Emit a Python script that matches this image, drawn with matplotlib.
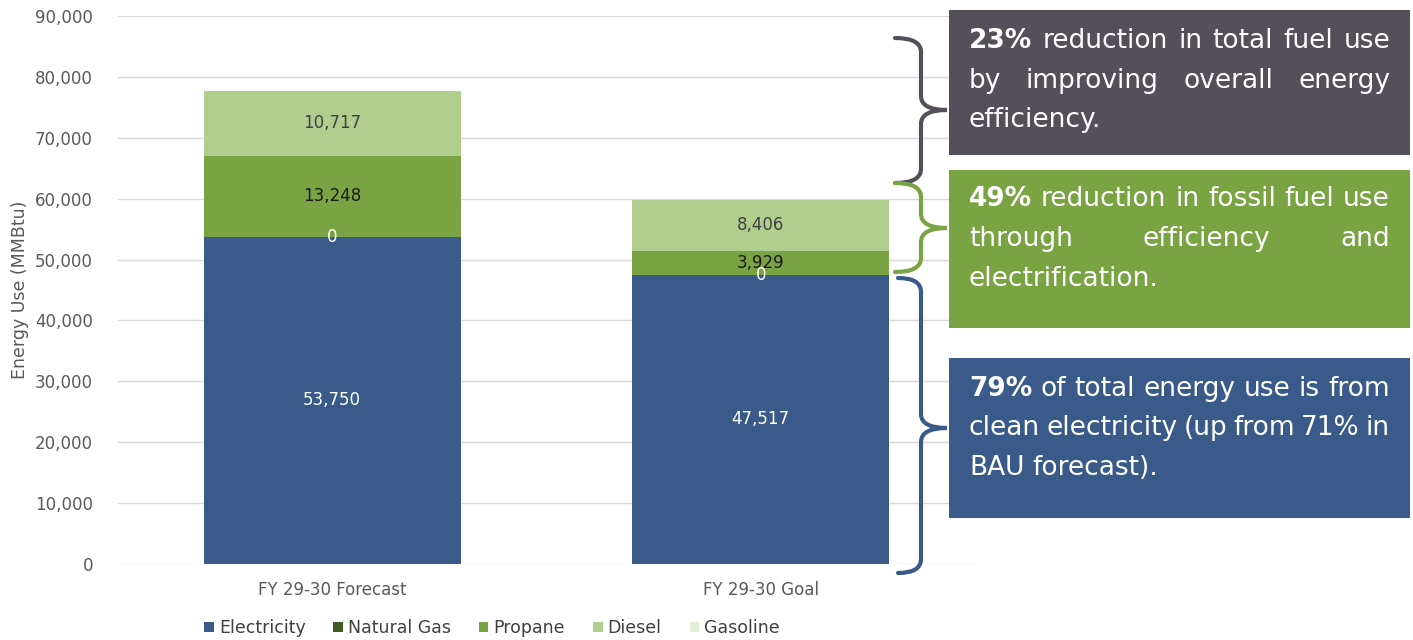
import numpy as np
import matplotlib
matplotlib.use("Agg")
import matplotlib.pyplot as plt
from matplotlib.path import Path
from matplotlib.patches import PathPatch, Rectangle
from matplotlib.ticker import FuncFormatter

plt.rcParams['font.family'] = ['DejaVu Sans']

# data
categories = ["FY 29-30 Forecast", "FY 29-30 Goal"]
fuels = ["Electricity", "Natural Gas", "Propane", "Diesel", "Gasoline"]
electricity = [53750, 47517]
natural_gas = [0, 0]
propane = [13248, 3929]
diesel = [10717, 8406]
gasoline = [0, 0]
series = [electricity, natural_gas, propane, diesel, gasoline]

colors = ["#3A5A8A", "#3E5C22", "#7AA444", "#B0CF8E", "#E2EFD9"]
label_colors = ["white", "white", "#1a1a1a", "#404040", None]

W, H = 1413, 640
fig = plt.figure(figsize=(W / 100, H / 100), dpi=100)
ax = fig.add_axes([118 / W, 1 - 564 / H, (975 - 118) / W, (564 - 16) / H])

x = np.arange(len(categories))
bottom = np.zeros(len(categories))
for vals, name, c, lc in zip(series, fuels, colors, label_colors):
    vals = np.array(vals, dtype=float)
    ax.bar(x, vals, 0.6, bottom=bottom, color=c, label=name, zorder=3)
    if lc is not None:
        for xi, v, b in zip(x, vals, bottom):
            ax.text(xi, b + v / 2, f"{int(v):,}", ha="center", va="center",
                    color=lc, fontsize=12, zorder=4)
    bottom += vals

ax.set_xlim(-0.5, 1.5)
ax.set_ylim(0, 90000)
ax.set_yticks(np.arange(0, 90001, 10000))
ax.yaxis.set_major_formatter(FuncFormatter(lambda v, p: f"{int(v):,}"))
ax.grid(axis="y", color="#D9D9D9", linewidth=1, zorder=0)
for s in ax.spines.values():
    s.set_visible(False)
ax.tick_params(axis="both", length=0, colors="#595959", labelsize=12)
ax.tick_params(axis="y", pad=18)
ax.tick_params(axis="x", pad=12)
ax.set_xticks(x)
ax.set_xticklabels(categories)
ax.set_ylabel("Energy Use (MMBtu)", color="#595959", fontsize=12.5, labelpad=4)

fig.legend(loc="center", bbox_to_anchor=(492 / W, 1 - 628 / H), ncol=5,
           frameon=False, handlelength=0.55, handleheight=0.55, handletextpad=0.3,
           columnspacing=1.6, fontsize=12.5, labelcolor="#404040")


def px(xp, yp):
    return xp / W, 1 - yp / H


def brace(xl, xm, xt, yt, yb, ytip, color, r=14):
    pts = [(xl, yt), (xm, yt), (xm, yt + r), (xm, ytip - r), (xm, ytip), (xt, ytip),
           (xm, ytip), (xm, ytip + r), (xm, yb - r), (xm, yb), (xl, yb)]
    codes = [Path.MOVETO, Path.CURVE3, Path.CURVE3, Path.LINETO, Path.CURVE3, Path.CURVE3,
             Path.CURVE3, Path.CURVE3, Path.LINETO, Path.CURVE3, Path.CURVE3]
    path = Path([px(a, b) for a, b in pts], codes)
    fig.add_artist(PathPatch(path, transform=fig.transFigure, fill=False,
                             edgecolor=color, linewidth=3, capstyle="round"))


boxes = [
    dict(y0=10, y1=155, color="#544F59", ys=[41, 81, 120],
         lines=[[("23%", True), ("reduction", False), ("in", False), ("total", False), ("fuel", False), ("use", False)],
                [("by", False), ("improving", False), ("overall", False), ("energy", False)],
                [("efficiency.", False)]],
         brace=(895, 921, 947, 38, 183, 110)),
    dict(y0=170, y1=328, color="#7AA444", ys=[199, 239, 279],
         lines=[[("49%", True), ("reduction", False), ("in", False), ("fossil", False), ("fuel", False), ("use", False)],
                [("through", False), ("efficiency", False), ("and", False)],
                [("electrification.", False)]],
         brace=(895, 921, 947, 183, 272, 228)),
    dict(y0=358, y1=518, color="#3A5A8A", ys=[389, 428, 468],
         lines=[[("79%", True), ("of", False), ("total", False), ("energy", False), ("use", False), ("is", False), ("from", False)],
                [("clean", False), ("electricity", False), ("(up", False), ("from", False), ("71%", False), ("in", False)],
                [("BAU", False), ("forecast).", False)]],
         brace=(898, 921, 947, 278, 573, 428)),
]

renderer = fig.canvas.get_renderer()
fs = 19
tx0, tx1 = 969, 1390
space_t = fig.text(0, 0, "a a", fontsize=fs)
nospace_t = fig.text(0, 0, "aa", fontsize=fs)
space_w = (space_t.get_window_extent(renderer).width
           - nospace_t.get_window_extent(renderer).width)
space_t.remove()
nospace_t.remove()

for b in boxes:
    fig.add_artist(Rectangle(px(949, b["y1"]), (1410 - 949) / W, (b["y1"] - b["y0"]) / H,
                             transform=fig.transFigure, facecolor=b["color"],
                             edgecolor="none"))
    brace(*b["brace"], color=b["color"])
    for i, (words, yc) in enumerate(zip(b["lines"], b["ys"])):
        texts = []
        for w, bold in words:
            t = fig.text(0, 0, w, fontsize=fs, color="white",
                         fontweight="bold" if bold else "normal", va="center")
            texts.append(t)
        widths = [t.get_window_extent(renderer).width for t in texts]
        last = i == len(b["lines"]) - 1
        if last or len(words) == 1:
            gap = space_w
        else:
            gap = (tx1 - tx0 - sum(widths)) / (len(words) - 1)
        xp = tx0
        for t, wd in zip(texts, widths):
            t.set_position(px(xp, yc))
            xp += wd + gap

fig.savefig("out.png", dpi=100)
